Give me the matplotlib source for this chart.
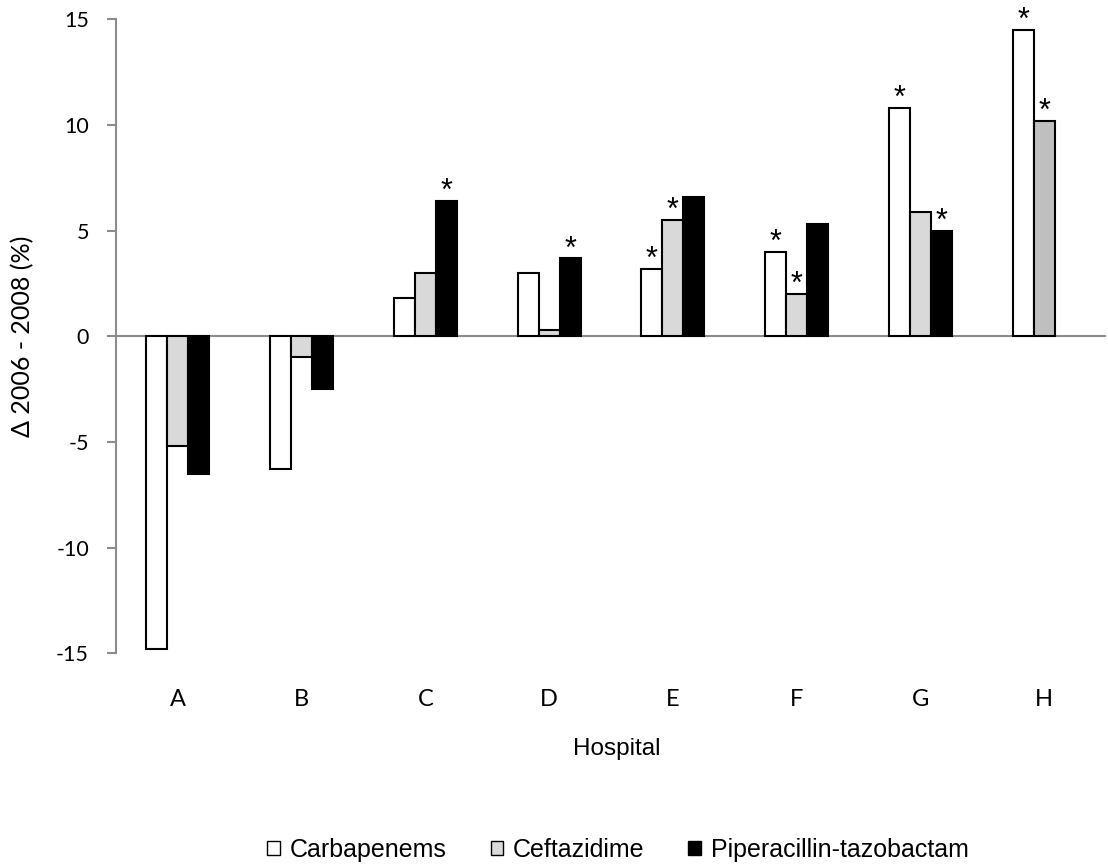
import numpy as np
import matplotlib
matplotlib.use("Agg")
import matplotlib.pyplot as plt
from matplotlib.patches import Patch

plt.rcParams["axes.unicode_minus"] = False

hospitals = ["A", "B", "C", "D", "E", "F", "G", "H"]
carbapenems = [-14.8, -6.3, 1.8, 3.0, 3.2, 4.0, 10.8, 14.5]
ceftazidime = [-5.2, -1.0, 3.0, 0.3, 5.5, 2.0, 5.9, 10.2]
piperacillin = [-6.5, -2.5, 6.4, 3.7, 6.6, 5.3, 5.0, np.nan]

sig_carb = [False, False, False, False, True, True, True, True]
sig_ceft = [False, False, False, False, True, True, False, True]
sig_pip = [False, False, True, True, False, False, True, False]

series_names = ["Carbapenems", "Ceftazidime", "Piperacillin-tazobactam"]
ceft_colors = ["#d9d9d9"] * 7 + ["#bfbfbf"]

fig = plt.figure(figsize=(11.08, 8.66), dpi=100)
ax = fig.add_axes([116/1108, 1 - 653.3/866, (1106-116)/1108, (653.3-19.3)/866])

x = np.arange(len(hospitals))
w = 0.17
edge = dict(edgecolor="black", linewidth=1.5)
ax.bar(x - w, carbapenems, w, color="white", **edge, zorder=3)
ax.bar(x, ceftazidime, w, color=ceft_colors, **edge, zorder=3)
ax.bar(x + w, piperacillin, w, color="black", **edge, zorder=3)

for vals, sigs, off in [(carbapenems, sig_carb, -w), (ceftazidime, sig_ceft, 0), (piperacillin, sig_pip, w)]:
    for xi, v, s in zip(x, vals, sigs):
        if s and not np.isnan(v):
            ax.annotate("*", xy=(xi + off, v), xytext=(0, 0.5), textcoords="offset points",
                        ha="center", va="baseline", fontsize=22,
                        family="Liberation Sans", zorder=4)

ax.set_xlim(-0.5, 7.5)
ax.set_ylim(-15, 15)
ax.set_yticks([-15, -10, -5, 0, 5, 10, 15])
ax.set_xticks(x)
ax.set_xticklabels(hospitals)
ax.axhline(0, color="#8c8c8c", linewidth=1.5, zorder=2)

for s in ["top", "right", "bottom"]:
    ax.spines[s].set_visible(False)
ax.spines["left"].set_color("#8c8c8c")
ax.spines["left"].set_linewidth(1.5)
ax.tick_params(axis="y", direction="out", length=6.5, width=1.5, color="#8c8c8c",
               pad=13, labelsize=15.5)
ax.tick_params(axis="x", length=0, pad=26, labelsize=17)
for lab in ax.get_xticklabels() + ax.get_yticklabels():
    lab.set_family("Lato")

fig.text(617/1108, 1 - 749/866, "Hospital", ha="center", va="center",
         fontsize=17.5, family="Liberation Sans")
ax.set_ylabel("Δ 2006 - 2008 (%)", fontsize=18, family="Lato", va="center")
ax.yaxis.set_label_coords((23 - 116) / 990, 0.5)

handles = [Patch(facecolor="white", edgecolor="black", linewidth=1.0),
           Patch(facecolor="#d9d9d9", edgecolor="black", linewidth=1.0),
           Patch(facecolor="black", edgecolor="black", linewidth=1.0)]
fig.legend(handles, series_names, loc="center", bbox_to_anchor=(618/1108, 1 - 850/866),
           ncol=3, frameon=False, prop={"family": "Liberation Sans", "size": 18},
           handlelength=0.5, handleheight=0.5, handletextpad=0.4, columnspacing=1.75,
           borderpad=0, borderaxespad=0)

fig.savefig("out.png", dpi=100)
